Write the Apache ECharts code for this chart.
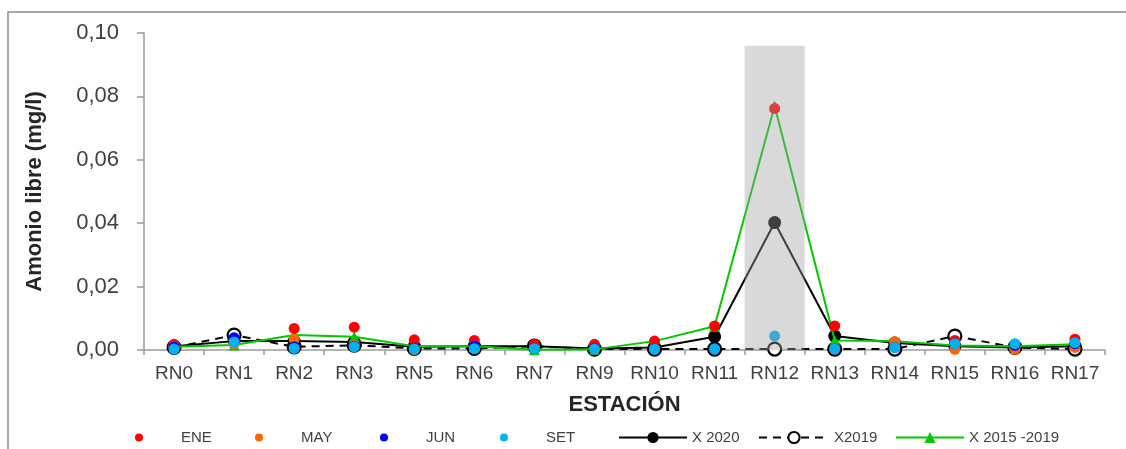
<!DOCTYPE html>
<html>
<head>
<meta charset="utf-8">
<script src="https://cdn.jsdelivr.net/npm/echarts@6/dist/echarts.min.js"></script>
<style>html,body{margin:0;padding:0;background:#fff}#c{width:1126px;height:449px}</style>
</head>
<body>
<div id="c"></div>
<script>
const categories = ['RN0','RN1','RN2','RN3','RN5','RN6','RN7','RN9','RN10','RN11','RN12','RN13','RN14','RN15','RN16','RN17'];
const ene   = [0.0018,0.0030,0.0068,0.0072,0.0032,0.0030,0.0018,0.0018,0.0028,0.0076,0.0762,0.0076,0.0022,0.0030,0.0010,0.0034];
const may   = [0.0012,0.0020,0.0034,0.0015,0.0001,0.0005,0.0005,0.0003,0.0003,0.0003,null,0.0002,0.0026,0.0002,0.0002,0.0008];
const jun   = [0.0010,0.0039,0.0010,0.0012,0.0005,0.0013,0.0005,0.0005,0.0003,0.0003,null,0.0003,0.0008,0.0020,0.0015,0.0020];
const set   = [0.0003,0.0025,0.0005,0.0010,0.0003,0.0004,0.0004,0.0003,0.0002,0.0003,0.0044,0.0003,0.0008,0.0020,0.0020,0.0023];
const x2020 = [0.0012,0.0028,0.0028,0.0025,0.0010,0.0012,0.0012,0.0005,0.0008,0.0042,0.0402,0.0044,0.0022,0.0012,0.0008,0.0012];
const x2019 = [0.0008,0.0047,0.0010,0.0015,0.0005,0.0005,0.0012,0.0003,0.0003,0.0003,0.0003,0.0003,0.0003,0.0044,0.0008,0.0003];
const x1519 = [0.0010,0.0016,0.0047,0.0042,0.0012,0.0012,0.0001,0.0002,0.0028,0.0075,0.0770,0.0030,0.0028,0.0014,0.0012,0.0018];
const highlight = [null,null,null,null,null,null,null,null,null,null,0.096,null,null,null,null,null];
const yMin = 0, yMax = 0.10, yStep = 0.02;

const FONT = 'Liberation Sans';
const chart = echarts.init(document.getElementById('c'), null, {renderer:'canvas'});

function scatter(name, data, color, z){
  return {name, type:'scatter', data, symbol:'circle', symbolSize:11, z,
    itemStyle:{color, opacity:1}};
}
function dotLegend(name, left){
  return {data:[name], left, top:430, padding:0, icon:'circle', itemWidth:74, itemHeight:8,
    textStyle:{fontFamily:FONT, fontSize:15, color:'#404040'}};
}
function lineLegend(name, left, w, extra){
  return Object.assign({data:[name], left, top:430, padding:0, itemWidth:w, itemHeight:14,
    textStyle:{fontFamily:FONT, fontSize:15, color:'#404040'}}, extra || {});
}

chart.setOption({
  animation:false,
  backgroundColor:'#fff',
  textStyle:{fontFamily:FONT},
  graphic:[{type:'rect', shape:{x:8,y:12,width:1300,height:600}, style:{fill:'none', stroke:'#8c8c8c', lineWidth:1.5}, silent:true}],
  grid:{left:144, right:21, top:33, bottom:99},
  legend:[
    dotLegend('ENE',135), dotLegend('MAY',255), dotLegend('JUN',380), dotLegend('SET',500),
    lineLegend('X 2020',618,68),
    lineLegend('X2019',758,70,{itemStyle:{color:'#fff', borderColor:'#000', borderWidth:2}}),
    lineLegend('X 2015 -2019',895,68)
  ],
  xAxis:{type:'category', data:categories, boundaryGap:true,
    name:'ESTACIÓN', nameLocation:'middle', nameGap:44,
    nameTextStyle:{fontFamily:FONT, fontSize:22, fontWeight:'bold', color:'#262626'},
    axisLine:{lineStyle:{color:'#9a9a9a', width:1.5}},
    axisTick:{show:true, length:5, alignWithLabel:false, lineStyle:{color:'#9a9a9a', width:1.5}},
    axisLabel:{fontFamily:FONT, fontSize:19, color:'#404040', margin:14, interval:0},
    splitLine:{show:false}},
  yAxis:{type:'value', min:yMin, max:yMax, interval:yStep,
    name:'Amonio libre (mg/l)', nameLocation:'middle', nameGap:98, nameRotate:90,
    nameTextStyle:{fontFamily:FONT, fontSize:22, fontWeight:'bold', color:'#262626'},
    axisLine:{show:true, lineStyle:{color:'#9a9a9a', width:1.5}},
    axisTick:{show:true, length:7, lineStyle:{color:'#9a9a9a', width:1.5}},
    axisLabel:{fontFamily:FONT, fontSize:22, color:'#404040', margin:25,
      formatter:v=>v.toFixed(2).replace('.', ',')},
    splitLine:{show:false}},
  series:[
    scatter('ENE', ene, '#ff0000', 5),
    scatter('MAY', may, '#ff6600', 6),
    scatter('JUN', jun, '#0000ff', 7),
    scatter('SET', set, '#00b0f0', 8),
    {name:'X 2020', type:'line', data:x2020, z:2, showAllSymbol:true, symbol:'circle', symbolSize:13,
      lineStyle:{color:'#000', width:2}, itemStyle:{color:'#000'}},
    {name:'X2019', type:'line', data:x2019, z:3, showAllSymbol:true, symbol:'circle', symbolSize:13,
      lineStyle:{color:'#000', width:2, type:[8,6]}, itemStyle:{color:'#fff', borderColor:'#000', borderWidth:2.2}},
    {name:'X 2015 -2019', type:'line', data:x1519, z:4, showAllSymbol:true, symbol:'triangle', symbolSize:11,
      lineStyle:{color:'#00c800', width:2}, itemStyle:{color:'#00c800'}},
    {name:'band', type:'bar', data:highlight, barWidth:'100%', z:10, silent:true,
      itemStyle:{color:'rgba(160,160,160,0.4)'}}
  ]
});
</script>
</body>
</html>
